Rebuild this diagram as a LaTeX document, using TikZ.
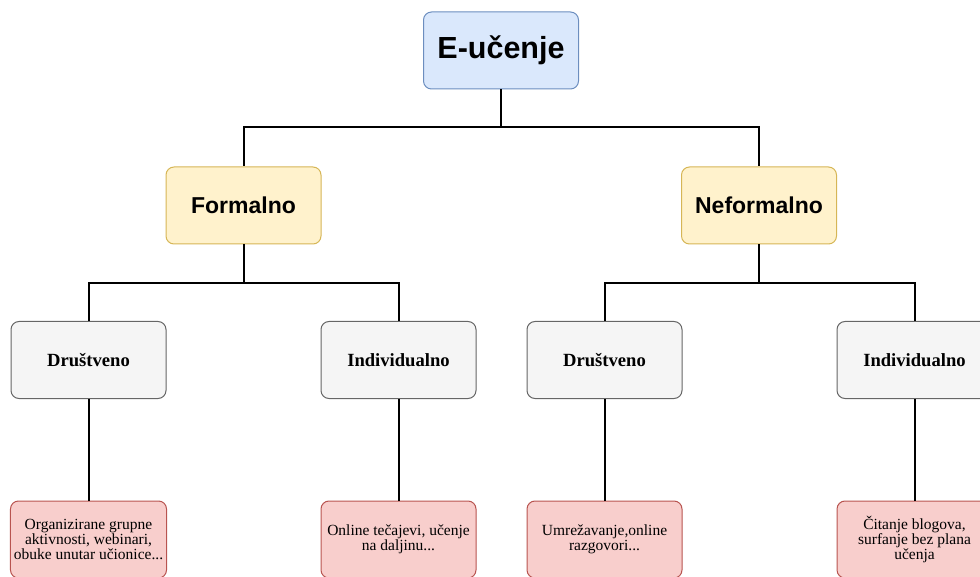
\documentclass[tikz,border=0pt]{standalone}
\usepackage{fontspec}
\setmainfont{Liberation Serif}
\newfontfamily\headfont{Liberation Sans}
\usepackage{tikz}
\definecolor{topfill}{HTML}{DAE8FC}
\definecolor{topline}{HTML}{6C8EBF}
\definecolor{midfill}{HTML}{FFF2CC}
\definecolor{midline}{HTML}{D6B656}
\definecolor{greyfill}{HTML}{F5F5F5}
\definecolor{greyline}{HTML}{666666}
\definecolor{redfill}{HTML}{F8CECC}
\definecolor{redline}{HTML}{B85450}
\usetikzlibrary{calc}
\tikzset{box/.style={
    rounded corners=8pt,
    line width=1pt,
    minimum width=155pt,
    minimum height=77pt,
    align=center},
  topbox/.style={box,
    fill=topfill,
    draw=topline,
    font=\headfont\bfseries\fontsize{30.5}{33}\selectfont},
  midbox/.style={box,
    fill=midfill,
    draw=midline,
    font=\headfont\bfseries\fontsize{23}{26}\selectfont},
  greybox/.style={box,
    fill=greyfill,
    draw=greyline,
    font=\bfseries\fontsize{18.6}{21}\selectfont},
  redbox/.style={box,
    fill=redfill,
    draw=redline,
    font=\fontsize{15.5}{14.8}\selectfont},
  link/.style={
    line width=2pt}}

\begin{document}
\begin{tikzpicture}[x=1pt, y=-1pt]
  \clip (0,0) rectangle (980,577);
  \coordinate (E) at (501,50.5);
\coordinate (F) at (243.5,205.5);
\coordinate (NF) at (759,205.5);

% levels
\node[topbox] (e) at (E) {E-učenje};

\node[midbox] (f) at (F) {Formalno};
\node[midbox] (nf) at (NF) {Neformalno};

\node[greybox] (d1) at (88.5,360) {Društveno};
\node[greybox] (i1) at (398.5,360) {Individualno};
\node[greybox] (d2) at (604.5,360) {Društveno};
\node[greybox] (i2) at (914.5,360) {Individualno};

\node[redbox] (o1) at (88.5,539.5) {Organizirane grupne\\aktivnosti, webinari,\\obuke unutar učionice...};
\node[redbox] (o2) at (398.5,539.5) {Online tečajevi, učenje\\na daljinu...};
\node[redbox] (o3) at (604.5,539.5) {Umrežavanje,online\\razgovori...};
\node[redbox] (o4) at (914.5,539.5) {Čitanje blogova,\\surfanje bez plana\\učenja};

% connectors
\coordinate (bus0) at (501,127);
\coordinate (bus1) at (243.5,283);
\coordinate (bus2) at (759,283);

\draw[link] (e) -- (bus0) -| (f);
\draw[link] (bus0) -| (nf);
\draw[link] (f) -- (bus1) -| (d1);
\draw[link] (bus1) -| (i1);
\draw[link] (nf) -- (bus2) -| (d2);
\draw[link] (bus2) -| (i2);

\draw[link] (d1) -- (o1);
\draw[link] (i1) -- (o2);
\draw[link] (d2) -- (o3);
\draw[link] (i2) -- (o4);

\end{tikzpicture}
\end{document}
